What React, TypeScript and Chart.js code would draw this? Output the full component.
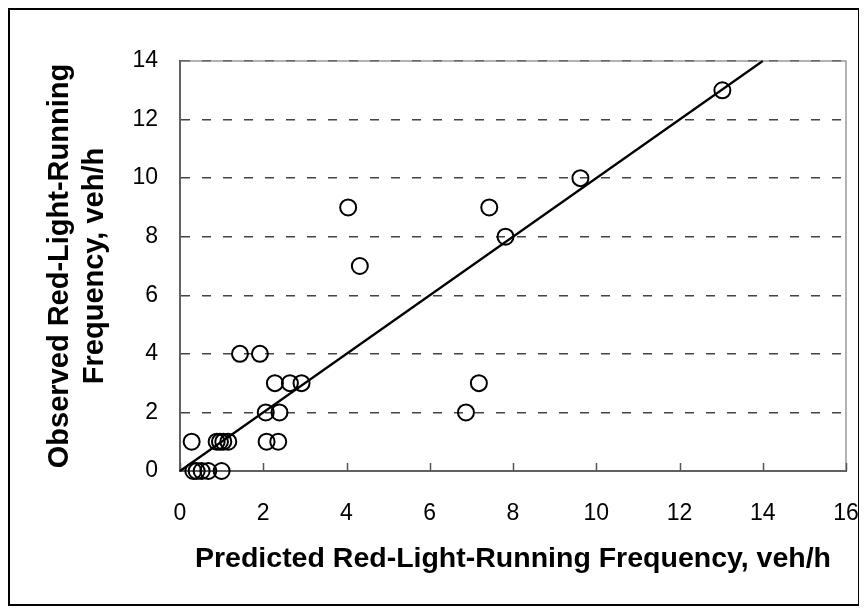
import React, { useEffect, useRef } from "react";
import { Chart, registerables } from "chart.js";

Chart.register(...registerables);

// Scatter data: predicted vs observed red-light-running frequency (veh/h)
const predicted = [
  13.03, 9.62, 7.43, 4.04, 7.82, 4.32, 1.44, 1.92, 2.28, 2.64, 2.92, 7.18, 2.06,
  2.39, 6.87, 0.28, 0.88, 0.96, 1.04, 1.16, 2.08, 2.36, 0.32, 0.4, 0.52, 0.68, 1.0,
];
const observed = [
  13, 10, 9, 9, 8, 7, 4, 4, 3, 3, 3, 3, 2, 2, 2, 1, 1, 1, 1, 1, 1, 1, 0, 0, 0, 0, 0,
];

// y = x reference line
const fitX = [0, 14];
const fitY = [0, 14];

const xTicks = [0, 2, 4, 6, 8, 10, 12, 14, 16];
const yTicks = [0, 2, 4, 6, 8, 10, 12, 14];

const xTitle = "Predicted Red-Light-Running Frequency, veh/h";
const yTitle = ["Observed Red-Light-Running", "Frequency, veh/h"];

const FONT = "'Liberation Sans', Arial, Helvetica, sans-serif";

const W = 848;
const H = 594;

const framePlugin = {
  id: "frame",
  beforeDatasetsDraw(chart: any) {
    const { ctx, chartArea } = chart;
    ctx.save();
    ctx.strokeStyle = "#808080";
    ctx.lineWidth = 1.2;
    ctx.strokeRect(chartArea.left, chartArea.top, chartArea.right - chartArea.left, chartArea.bottom - chartArea.top);
    // inward tick marks on the x axis
    const xs = chart.scales.x;
    ctx.strokeStyle = "#555";
    ctx.lineWidth = 1.5;
    ctx.beginPath();
    for (const v of xTicks) {
      const px = Math.round(xs.getPixelForValue(v)) + 0.5;
      ctx.moveTo(px, chartArea.bottom);
      ctx.lineTo(px, chartArea.bottom - 8);
    }
    ctx.stroke();
    ctx.restore();
  },
};

export default function App() {
  const ref = useRef<HTMLCanvasElement | null>(null);

  useEffect(() => {
    if (!ref.current) return;
    const points = predicted.map((x, i) => ({ x, y: observed[i] }));
    const line = fitX.map((x, i) => ({ x, y: fitY[i] }));
    const chart = new Chart(ref.current, {
      type: "scatter",
      data: {
        datasets: [
          {
            type: "line",
            data: line,
            borderColor: "#000",
            borderWidth: 2.2,
            pointRadius: 0,
            fill: false,
            clip: false,
          } as any,
          {
            data: points,
            pointStyle: "circle",
            pointRadius: 8,
            pointBorderWidth: 2,
            borderColor: "#000",
            backgroundColor: "rgba(0,0,0,0)",
            pointBackgroundColor: "rgba(0,0,0,0)",
            pointBorderColor: "#000",
            clip: false,
          } as any,
        ],
      },
      options: {
        animation: false,
        responsive: false,
        events: [],
        layout: { padding: { left: 0, right: 12, top: 51, bottom: 0 } },
        plugins: { legend: { display: false }, tooltip: { enabled: false } },
        scales: {
          x: {
            type: "linear",
            min: 0,
            max: 16,
            afterBuildTicks: (s: any) => {
              s.ticks = xTicks.map((v) => ({ value: v }));
            },
            afterFit: (s: any) => {
              s.height = H - 461;
              s.paddingLeft = 0;
              s.paddingRight = 0;
            },
            grid: { display: false, drawTicks: false },
            border: { display: true, color: "#333", width: 2 },
            ticks: {
              padding: 29,
              color: "#000",
              font: { family: FONT, size: 23 },
              maxRotation: 0,
              autoSkip: false,
            },
            title: {
              display: true,
              text: xTitle,
              color: "#000",
              font: { family: FONT, size: 28.5, weight: "bold" },
              padding: { top: 0, bottom: 28 },
            },
          },
          y: {
            type: "linear",
            min: 0,
            max: 14,
            afterBuildTicks: (s: any) => {
              s.ticks = yTicks.map((v) => ({ value: v }));
            },
            afterFit: (s: any) => {
              s.width = 170;
            },
            grid: {
              display: true,
              drawTicks: false,
              color: "#444",
              lineWidth: 1.5,
            },
            border: { display: true, color: "#333", width: 2, dash: [9, 12] },
            ticks: {
              padding: 22,
              color: "#000",
              font: { family: FONT, size: 23 },
              autoSkip: false,
            },
            title: {
              display: true,
              text: yTitle,
              color: "#000",
              font: { family: FONT, size: 29, weight: "bold", lineHeight: 1.2 },
              padding: { top: 33, bottom: 0 },
            },
          },
        },
      } as any,
      plugins: [framePlugin],
    });
    return () => chart.destroy();
  }, []);

  return (
    <div style={{ width: W, height: H, border: "2px solid #000", background: "#fff" }}>
      <canvas ref={ref} width={W} height={H} style={{ display: "block", width: W, height: H }} />
    </div>
  );
}
